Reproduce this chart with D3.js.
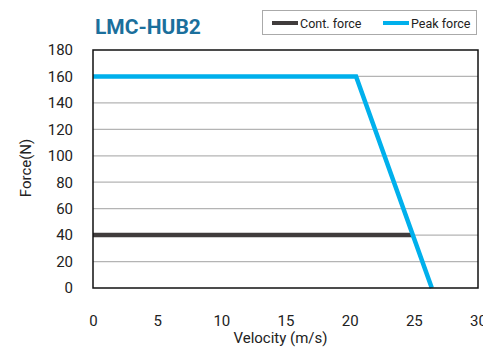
<!DOCTYPE html>
<html><head><meta charset="utf-8">
<script src="https://cdn.jsdelivr.net/npm/d3@7"></script>
<style>body{margin:0;background:#fff}svg{display:block;font-family:Roboto,"DejaVu Sans",sans-serif}</style>
</head><body><svg id="c" width="483" height="349"></svg>
<script>
const title = "LMC-HUB2";
const seriesNames = ["Cont. force", "Peak force"];
const seriesColors = ["#403c3c", "#00b0ec"];
const contX = [0, 24.9];
const contY = [40, 40];
const peakX = [0, 20.5, 26.4];
const peakY = [160, 160, 0];
const xTicks = [0, 5, 10, 15, 20, 25, 30];
const yTicks = [0, 20, 40, 60, 80, 100, 120, 140, 160, 180];
const xLabel = "Velocity (m/s)";
const yLabel = "Force(N)";

const svg = d3.select("#c");
const m = {l: 93, r: 478, t: 50, b: 288};
const x = d3.scaleLinear().domain([0, 30]).range([m.l, m.r]);
const y = d3.scaleLinear().domain([0, 180]).range([m.b, m.t]);

// grid
svg.append("g").selectAll("line").data(yTicks.filter(d => d > 0 && d < 180)).join("line")
  .attr("x1", m.l).attr("x2", m.r).attr("y1", d => y(d)).attr("y2", d => y(d))
  .attr("stroke", "#b4b4b4").attr("stroke-width", 1.2);

const series = [
  {xs: contX, ys: contY, color: seriesColors[0]},
  {xs: peakX, ys: peakY, color: seriesColors[1]}
];
const line = d3.line().x(d => x(d[0])).y(d => y(d[1]));
series.forEach(s => {
  svg.append("path").datum(d3.zip(s.xs, s.ys)).attr("d", line)
    .attr("fill", "none").attr("stroke", s.color).attr("stroke-width", 4.5)
    .attr("stroke-linejoin", "miter");
});

// frame
svg.append("rect").attr("x", m.l).attr("y", m.t).attr("width", m.r - m.l).attr("height", m.b - m.t)
  .attr("fill", "none").attr("stroke", "#111").attr("stroke-width", 1.5);

// axes labels
const xa = svg.append("g").attr("transform", `translate(0,${m.b + 27})`)
  .call(d3.axisBottom(x).tickValues(xTicks).tickSize(0).tickPadding(0));
xa.select(".domain").remove();
xa.selectAll("text").attr("font-size", 15).attr("fill", "#222").attr("font-family", "Roboto");

const ya = svg.append("g").attr("transform", `translate(${m.l - 20},0)`)
  .call(d3.axisLeft(y).tickValues(yTicks).tickSize(0).tickPadding(0));
ya.select(".domain").remove();
ya.selectAll("text").attr("font-size", 15).attr("fill", "#222").attr("font-family", "Roboto");

svg.append("text").attr("x", (m.l + m.r) / 2 - 5).attr("y", 343).attr("text-anchor", "middle")
  .attr("font-size", 15).attr("fill", "#222").text(xLabel);
svg.append("text").attr("transform", `translate(31,${(m.t + m.b) / 2 - 1}) rotate(-90)`)
  .attr("text-anchor", "middle").attr("font-size", 15).attr("fill", "#222").text(yLabel);

// title
svg.append("text").attr("x", 95).attr("y", 34).attr("font-size", 21).attr("font-weight", "bold")
  .attr("fill", "#1b6f9c").text(title);

// legend
const lg = svg.append("g");
lg.append("rect").attr("x", 262.5).attr("y", 10.5).attr("width", 214).attr("height", 24)
  .attr("fill", "#fff").attr("stroke", "#aaa");
const lx = [272, 383];
seriesNames.forEach((n, i) => {
  lg.append("line").attr("x1", lx[i]).attr("x2", lx[i] + 26).attr("y1", 23).attr("y2", 23)
    .attr("stroke", seriesColors[i]).attr("stroke-width", 4);
  lg.append("text").attr("x", lx[i] + 28).attr("y", 27.5).attr("font-size", 12.5).attr("fill", "#222").text(n);
});
</script></body></html>
